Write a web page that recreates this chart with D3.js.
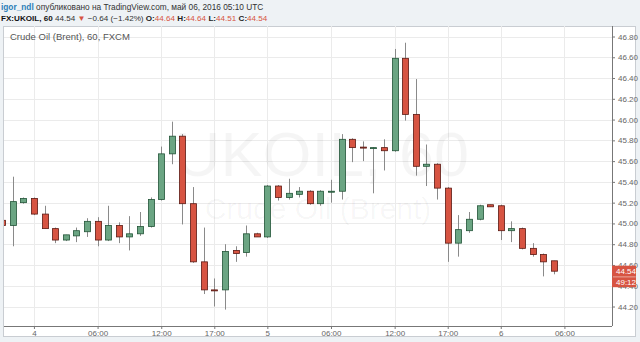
<!DOCTYPE html>
<html>
<head>
<meta charset="utf-8">
<script src="https://d3js.org/d3.v7.min.js"></script>
<style>
  body { margin: 0; background: #eef2f5; }
  svg { display: block; font-family: "Liberation Sans", Arial, sans-serif; }
</style>
</head>
<body>
<svg width="640" height="342"></svg>
<script>
// hourly bars, UKOIL 60 (FXCM)
const open  = [45.03,44.98,45.20,45.24,45.09,44.95,44.84,44.88,44.92,45.02,44.84,44.98,44.87,44.90,44.97,45.23,45.67,45.84,45.19,44.63,44.36,44.36,44.74,44.72,44.90,44.87,45.36,45.25,45.28,45.31,45.19,45.31,45.31,45.81,45.735,45.73,45.73,45.70,46.59,46.05,45.55,45.57,45.34,44.81,44.93,45.04,45.18,45.17,44.93,44.95,44.76,44.70,44.64];
const high  = [45.05,45.45,45.25,45.25,45.17,44.96,44.89,44.96,45.05,45.06,45.17,45.01,45.07,45.11,45.25,45.74,45.98,45.86,45.35,44.96,44.47,44.80,44.78,44.98,44.91,45.37,45.37,45.43,45.35,45.32,45.32,45.42,45.86,45.82,45.79,45.735,45.81,46.68,46.74,46.39,45.76,45.58,45.35,45.08,45.11,45.18,45.18,45.18,45.02,44.96,44.81,44.71,44.64];
const low   = [44.97,44.78,45.19,45.08,44.95,44.81,44.83,44.82,44.87,44.78,44.83,44.81,44.74,44.88,44.96,45.22,45.57,44.99,44.62,44.32,44.20,44.17,44.63,44.68,44.87,44.86,45.22,45.23,45.25,45.18,45.17,45.20,45.23,45.59,45.60,45.29,45.51,45.69,45.99,45.46,45.36,45.23,44.63,44.68,44.91,45.03,45.16,44.84,44.82,44.75,44.68,44.49,44.51];
const close = [44.98,45.21,45.24,45.09,44.95,44.84,44.89,44.93,45.02,44.84,44.98,44.87,44.90,44.97,45.23,45.67,45.84,45.19,44.63,44.36,44.355,44.73,44.71,44.90,44.87,45.36,45.25,45.29,45.31,45.19,45.31,45.31,45.81,45.73,45.73,45.73,45.70,46.59,46.05,45.55,45.57,45.34,44.81,44.94,45.04,45.17,45.16,44.93,44.95,44.76,44.70,44.63,44.54];

const timeTickBars   = [3, 9, 15, 20, 25, 31, 37, 42, 47, 53];
const timeTickLabels = ["4", "06:00", "12:00", "17:00", "5", "06:00", "12:00", "17:00", "6", "06:00"];
const priceTicks = [44.2, 44.4, 44.6, 44.8, 45.0, 45.2, 45.4, 45.6, 45.8, 46.0, 46.2, 46.4, 46.6, 46.8];
const lastPrice = 44.54;
const countdown = "49:12";

const upFill = "#6ba583", upLine = "#225437";
const dnFill = "#d75442", dnLine = "#5b1a13";

const svg = d3.select("svg");
const plot = {left: 4, right: 612, top: 26, bottom: 326};

// header
const h1 = svg.append("text").attr("x", 1).attr("y", 10).attr("font-size", 8.3).attr("fill", "#333");
h1.append("tspan").attr("fill", "#2b7fb8").attr("font-weight", "bold").text("igor_ndl");
h1.append("tspan").text(" опубликовано на TradingView.com, май 06, 2016 05:10 UTC");

const h2 = svg.append("text").attr("x", 1).attr("y", 21).attr("font-size", 8.1).attr("fill", "#333");
h2.append("tspan").attr("font-weight", "bold").attr("fill", "#111").text("FX:UKOIL, 60");
h2.append("tspan").text(" 44.54 ");
h2.append("tspan").attr("fill", dnFill).text("▼");
h2.append("tspan").text(" −0.64 (−1.42%) ");
[["O:", "44.64"], ["H:", "44.64"], ["L:", "44.51"], ["C:", "44.54"]].forEach(([k, v], n) => {
  h2.append("tspan").attr("font-weight", "bold").attr("fill", "#222").text(k);
  h2.append("tspan").attr("fill", dnFill).text(n < 3 ? v + " " : v);
});

// chart box
svg.append("rect").attr("x", 3.5).attr("y", 26.5).attr("width", 632).attr("height", 310)
  .attr("fill", "#fff").attr("stroke", "#c9cdd2");

const x = d3.scaleLinear().domain([0, 52]).range([2.1, 553.8]);
const y = d3.scaleLinear().domain([44.2, 46.8]).range([306.5, 36.5]);

// grid
const grid = svg.append("g").attr("stroke", "#ebebeb").attr("shape-rendering", "crispEdges");
grid.selectAll(".hg").data(priceTicks).enter().append("line")
  .attr("x1", plot.left).attr("x2", plot.right)
  .attr("y1", d => Math.round(y(d)) + 0.5).attr("y2", d => Math.round(y(d)) + 0.5);
grid.selectAll(".vg").data(timeTickBars).enter().append("line")
  .attr("y1", plot.top).attr("y2", plot.bottom)
  .attr("x1", d => Math.round(x(d)) + 0.5).attr("x2", d => Math.round(x(d)) + 0.5);

// watermark
svg.append("text").attr("x", 322).attr("y", 176).attr("text-anchor", "middle")
  .attr("font-size", 63).attr("fill", "#000").attr("fill-opacity", 0.04).text("UKOIL, 60");
svg.append("text").attr("x", 318).attr("y", 219).attr("text-anchor", "middle")
  .attr("font-size", 30).attr("fill", "#000").attr("fill-opacity", 0.04).text("Crude Oil (Brent)");

svg.append("text").attr("x", 10).attr("y", 40).attr("font-size", 9.5).attr("fill", "#555")
  .text("Crude Oil (Brent), 60, FXCM");

// candles
svg.append("clipPath").attr("id", "clip").append("rect")
  .attr("x", plot.left).attr("y", plot.top).attr("width", plot.right - plot.left).attr("height", plot.bottom - plot.top);

const bars = d3.range(open.length).map(i => ({i, o: open[i], h: high[i], l: low[i], c: close[i]}));
const cg = svg.append("g").attr("clip-path", "url(#clip)");
const candle = cg.selectAll("g").data(bars).enter().append("g");
candle.append("line")
  .attr("x1", d => Math.round(x(d.i)) + 0.5).attr("x2", d => Math.round(x(d.i)) + 0.5)
  .attr("y1", d => y(d.h)).attr("y2", d => y(d.l))
  .attr("stroke", "#8a8a8a").attr("stroke-width", 1);
candle.append("rect")
  .attr("x", d => Math.round(x(d.i)) - 2.5)
  .attr("width", 6)
  .attr("y", d => y(Math.max(d.o, d.c)))
  .attr("height", d => Math.max(1, Math.abs(y(d.o) - y(d.c))))
  .attr("fill", d => d.c >= d.o ? upFill : dnFill)
  .attr("stroke", d => d.c >= d.o ? upLine : dnLine)
  .attr("stroke-width", 0.8);

// price axis
const ya = svg.append("g").attr("transform", `translate(${plot.right},0)`)
  .call(d3.axisRight(y).tickValues(priceTicks).tickFormat(d3.format(".2f")).tickSize(3).tickPadding(3));
ya.select(".domain").attr("stroke", "#777").attr("d", `M0.5,${plot.top}V${plot.bottom}`);
ya.selectAll(".tick line").attr("stroke", "#777");
ya.selectAll(".tick text").attr("fill", "#666").attr("font-size", 8).attr("font-family", "Liberation Sans, Arial");

// time axis
const xa = svg.append("g").attr("transform", `translate(0,${plot.bottom})`)
  .call(d3.axisBottom(x).tickValues(timeTickBars).tickFormat((d, k) => timeTickLabels[k]).tickSize(3).tickPadding(1));
xa.select(".domain").attr("stroke", "#777").attr("d", `M${plot.left},0.5H${plot.right}`);
xa.selectAll(".tick line").attr("stroke", "#777");
xa.selectAll(".tick text").attr("fill", "#666").attr("font-size", 8).attr("font-family", "Liberation Sans, Arial");

// last price + countdown labels
const lp = svg.append("g").attr("transform", `translate(${plot.right},${y(lastPrice)})`);
lp.append("rect").attr("x", 0).attr("y", -5.5).attr("width", 24).attr("height", 11).attr("fill", dnFill);
lp.append("text").attr("x", 4).attr("y", 3).attr("font-size", 8).attr("fill", "#fff").text(d3.format(".2f")(lastPrice));
lp.append("rect").attr("x", 0).attr("y", 6).attr("width", 24).attr("height", 10).attr("fill", dnFill);
lp.append("text").attr("x", 4).attr("y", 14).attr("font-size", 8).attr("fill", "#fff").text(countdown);
</script>
</body>
</html>
